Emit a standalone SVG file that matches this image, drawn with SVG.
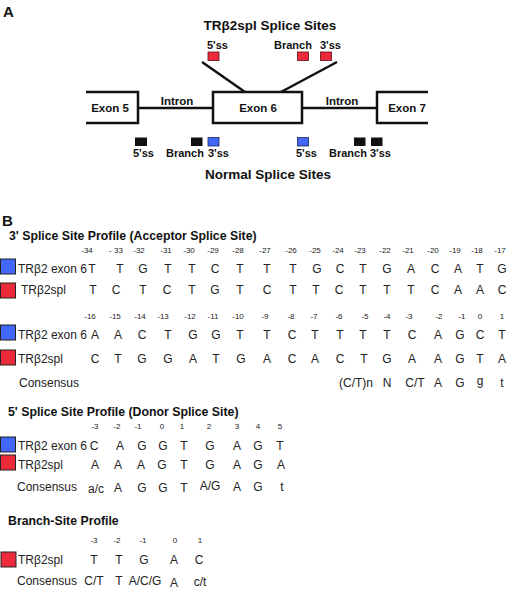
<svg xmlns="http://www.w3.org/2000/svg" width="520" height="591" viewBox="0 0 520 591">
<style>
text{font-family:"Liberation Sans",Arial,sans-serif;fill:#111}
.b{font-weight:bold}
.pl{font-size:15px;font-weight:bold}
.ttl{font-size:13.5px;font-weight:bold;text-anchor:middle}
.ex{font-size:11.5px;font-weight:bold;text-anchor:middle}
.lb{font-size:11px;font-weight:bold}
.hd{font-size:12.3px;font-weight:bold}
.nm{font-size:8px;text-anchor:middle;fill:#222}
.sq{font-size:12px;text-anchor:middle;fill:#222}
.rl{font-size:12px;fill:#222}
.box{fill:none;stroke:#111;stroke-width:2.5}
.blk{fill:#111}
.blu{fill:#4266f5;stroke:#1a2a60;stroke-width:0.8}
.red{fill:#ee2a3a;stroke:#5a1015;stroke-width:0.8}
.kb{fill:#4266f5;stroke:#222;stroke-width:1}
.kr{fill:#ee2a3a;stroke:#222;stroke-width:1}
</style>

<!-- Panel A -->
<text class="pl" x="3" y="17">A</text>
<text class="ttl" x="270" y="30">TRβ2spl Splice Sites</text>

<g id="exon5">
<path class="box" d="M86,92 H138 V123 H86"/>
<text class="ex" x="110" y="112">Exon 5</text>
</g>
<g id="exon6">
<rect class="box" x="213" y="92" width="89" height="31"/>
<text class="ex" x="258" y="112">Exon 6</text>
</g>
<g id="exon7">
<path class="box" d="M428,92 H377 V123 H428"/>
<text class="ex" x="407" y="112">Exon 7</text>
</g>

<g id="connectors">
<path class="box" d="M138,108 H213"/>
<path class="box" d="M302,108 H377"/>
<path class="box" d="M202,62 L245,92"/>
<path class="box" d="M337,62 L281,92"/>
</g>
<text class="ex" x="177" y="105">Intron</text>
<text class="ex" x="342" y="105">Intron</text>

<g id="spl-sites">
<text class="lb" x="207" y="49">5'ss</text>
<rect class="red" x="208" y="52" width="11" height="8.5"/>
<text class="lb" x="274" y="49">Branch</text>
<rect class="red" x="297.5" y="52" width="11" height="8.5"/>
<text class="lb" x="320" y="49">3'ss</text>
<rect class="red" x="320.5" y="52" width="11" height="8.5"/>
</g>

<g id="normal-sites">
<rect class="blk" x="135" y="137.5" width="12" height="8.5"/>
<rect class="blk" x="191" y="137.5" width="11.5" height="8.5"/>
<rect class="blu" x="208" y="137.5" width="11" height="8.5"/>
<rect class="blu" x="297.5" y="137.5" width="11" height="8.5"/>
<rect class="blk" x="354" y="137.5" width="11.5" height="8.5"/>
<rect class="blk" x="371" y="137.5" width="11.5" height="8.5"/>
<text class="lb" x="133" y="157">5'ss</text>
<text class="lb" x="166" y="157">Branch</text>
<text class="lb" x="208" y="157">3'ss</text>
<text class="lb" x="296" y="157">5'ss</text>
<text class="lb" x="329" y="157">Branch</text>
<text class="lb" x="370" y="157">3'ss</text>
</g>
<text class="ttl" x="268" y="179">Normal Splice Sites</text>

<!-- Panel B -->
<text class="pl" x="2" y="226">B</text>
<text class="hd" x="9" y="240">3' Splice Site Profile (Acceptor Splice Site)</text>

<g id="acc-num1">
<text class="nm" x="87" y="253">-34</text><text class="nm" x="116" y="253">- 33</text><text class="nm" x="139" y="253">-32</text><text class="nm" x="166" y="253">-31</text><text class="nm" x="189" y="253">-30</text><text class="nm" x="213" y="253">-29</text><text class="nm" x="238" y="253">-28</text><text class="nm" x="265" y="253">-27</text><text class="nm" x="291" y="253">-26</text><text class="nm" x="315" y="253">-25</text><text class="nm" x="338" y="253">-24</text><text class="nm" x="360" y="253">-23</text><text class="nm" x="385" y="253">-22</text><text class="nm" x="408" y="253">-21</text><text class="nm" x="433" y="253">-20</text><text class="nm" x="455" y="253">-19</text><text class="nm" x="477" y="253">-18</text><text class="nm" x="500" y="253">-17</text>
</g>
<g id="acc-row1">
<rect class="kb" x="0.5" y="259" width="15" height="15"/>
<text class="rl" x="18" y="273">TRβ2 exon 6</text>
<text class="sq" x="92" y="273">T</text><text class="sq" x="120" y="273">T</text><text class="sq" x="143" y="273">G</text><text class="sq" x="168" y="273">T</text><text class="sq" x="192" y="273">T</text><text class="sq" x="215" y="273">C</text><text class="sq" x="240" y="273">T</text><text class="sq" x="267" y="273">T</text><text class="sq" x="293" y="273">T</text><text class="sq" x="317" y="273">G</text><text class="sq" x="340" y="273">C</text><text class="sq" x="363" y="273">T</text><text class="sq" x="387" y="273">G</text><text class="sq" x="411" y="273">A</text><text class="sq" x="435" y="273">C</text><text class="sq" x="458" y="273">A</text><text class="sq" x="480" y="273">T</text><text class="sq" x="502" y="273">G</text>
</g>
<g id="acc-row2">
<rect class="kr" x="0.5" y="283" width="15" height="15"/>
<text class="rl" x="21" y="294">TRβ2spl</text>
<text class="sq" x="93" y="294">T</text><text class="sq" x="116" y="294">C</text><text class="sq" x="143" y="294">T</text><text class="sq" x="167" y="294">C</text><text class="sq" x="192" y="294">T</text><text class="sq" x="215" y="294">G</text><text class="sq" x="240" y="294">T</text><text class="sq" x="267" y="294">C</text><text class="sq" x="293" y="294">T</text><text class="sq" x="316" y="294">T</text><text class="sq" x="339" y="294">C</text><text class="sq" x="363" y="294">T</text><text class="sq" x="387" y="294">T</text><text class="sq" x="411" y="294">T</text><text class="sq" x="435" y="294">C</text><text class="sq" x="458" y="294">A</text><text class="sq" x="480" y="294">A</text><text class="sq" x="502" y="294">C</text>
</g>

<g id="acc-num2">
<text class="nm" x="90" y="319">-16</text><text class="nm" x="115" y="319">-15</text><text class="nm" x="140" y="319">-14</text><text class="nm" x="163" y="319">-13</text><text class="nm" x="190" y="319">-12</text><text class="nm" x="213" y="319">-11</text><text class="nm" x="238" y="319">-10</text><text class="nm" x="265" y="319">-9</text><text class="nm" x="291" y="319">-8</text><text class="nm" x="314" y="319">-7</text><text class="nm" x="339" y="319">-6</text><text class="nm" x="365" y="319">-5</text><text class="nm" x="387" y="319">-4</text><text class="nm" x="409" y="319">-3</text><text class="nm" x="439" y="319">-2</text><text class="nm" x="462" y="319">-1</text><text class="nm" x="480" y="319">0</text><text class="nm" x="502" y="319">1</text>
</g>
<g id="acc-row3">
<rect class="kb" x="0.5" y="325" width="15" height="15"/>
<text class="rl" x="18" y="339">TRβ2 exon 6</text>
<text class="sq" x="95" y="339">A</text><text class="sq" x="118" y="339">A</text><text class="sq" x="142" y="339">C</text><text class="sq" x="168" y="339">T</text><text class="sq" x="193" y="339">G</text><text class="sq" x="216" y="339">G</text><text class="sq" x="240" y="339">T</text><text class="sq" x="267" y="339">T</text><text class="sq" x="292" y="339">C</text><text class="sq" x="315" y="339">T</text><text class="sq" x="340" y="339">T</text><text class="sq" x="363" y="339">T</text><text class="sq" x="387" y="339">T</text><text class="sq" x="412" y="339">C</text><text class="sq" x="438" y="339">A</text><text class="sq" x="460" y="339">G</text><text class="sq" x="480" y="339">C</text><text class="sq" x="502" y="339">T</text>
</g>
<g id="acc-row4">
<rect class="kr" x="0.5" y="350" width="15" height="15"/>
<text class="rl" x="18" y="363">TRβ2spl</text>
<text class="sq" x="95" y="363">C</text><text class="sq" x="118" y="363">T</text><text class="sq" x="142" y="363">G</text><text class="sq" x="168" y="363">G</text><text class="sq" x="193" y="363">A</text><text class="sq" x="216" y="363">T</text><text class="sq" x="241" y="363">G</text><text class="sq" x="267" y="363">A</text><text class="sq" x="292" y="363">C</text><text class="sq" x="315" y="363">A</text><text class="sq" x="340" y="363">C</text><text class="sq" x="364" y="363">T</text><text class="sq" x="387" y="363">G</text><text class="sq" x="412" y="363">A</text><text class="sq" x="438" y="363">A</text><text class="sq" x="460" y="363">G</text><text class="sq" x="480" y="363">T</text><text class="sq" x="502" y="363">A</text>
</g>
<g id="acc-cons">
<text class="rl" x="19" y="387">Consensus</text>
<text class="sq" x="356" y="387">(C/T)n</text><text class="sq" x="387" y="387">N</text><text class="sq" x="415" y="387">C/T</text><text class="sq" x="438" y="387">A</text><text class="sq" x="460" y="387">G</text><text class="sq" x="480" y="385">g</text><text class="sq" x="502" y="387">t</text>
</g>

<text class="hd" x="8" y="416">5' Splice Site Profile (Donor Splice Site)</text>
<g id="don-num">
<text class="nm" x="95" y="429">-3</text><text class="nm" x="117" y="429">-2</text><text class="nm" x="138" y="429">-1</text><text class="nm" x="162" y="429">0</text><text class="nm" x="182" y="429">1</text><text class="nm" x="209" y="429">2</text><text class="nm" x="237" y="429">3</text><text class="nm" x="258" y="429">4</text><text class="nm" x="280" y="429">5</text>
</g>
<g id="don-row1">
<rect class="kb" x="0.5" y="437" width="15" height="15"/>
<text class="rl" x="18" y="450">TRβ2 exon 6</text>
<text class="sq" x="94" y="450">C</text><text class="sq" x="120" y="450">A</text><text class="sq" x="142" y="450">G</text><text class="sq" x="163" y="450">G</text><text class="sq" x="184" y="450">T</text><text class="sq" x="210" y="450">G</text><text class="sq" x="237" y="450">A</text><text class="sq" x="258" y="450">G</text><text class="sq" x="280" y="450">T</text>
</g>
<g id="don-row2">
<rect class="kr" x="0.5" y="455" width="15" height="15"/>
<text class="rl" x="18" y="469">TRβ2spl</text>
<text class="sq" x="95" y="469">A</text><text class="sq" x="118" y="469">A</text><text class="sq" x="141" y="469">A</text><text class="sq" x="162" y="469">G</text><text class="sq" x="184" y="469">T</text><text class="sq" x="210" y="469">G</text><text class="sq" x="237" y="469">A</text><text class="sq" x="258" y="469">G</text><text class="sq" x="281" y="469">A</text>
</g>
<g id="don-cons">
<text class="rl" x="17" y="491">Consensus</text>
<text class="sq" x="96" y="493">a/c</text><text class="sq" x="118" y="492">A</text><text class="sq" x="142" y="492">G</text><text class="sq" x="163" y="492">G</text><text class="sq" x="184" y="492">T</text><text class="sq" x="210" y="490">A/G</text><text class="sq" x="237" y="491">A</text><text class="sq" x="258" y="491">G</text><text class="sq" x="282" y="491">t</text>
</g>

<text class="hd" x="8" y="525">Branch-Site Profile</text>
<g id="br-num">
<text class="nm" x="94" y="543">-3</text><text class="nm" x="117" y="543">-2</text><text class="nm" x="143" y="543">-1</text><text class="nm" x="175" y="543">0</text><text class="nm" x="200" y="543">1</text>
</g>
<g id="br-row">
<rect class="kr" x="1" y="552" width="15" height="15"/>
<text class="rl" x="18" y="564">TRβ2spl</text>
<text class="sq" x="94" y="564">T</text><text class="sq" x="119" y="564">T</text><text class="sq" x="144" y="564">G</text><text class="sq" x="174" y="564">A</text><text class="sq" x="199" y="564">C</text>
</g>
<g id="br-cons">
<text class="rl" x="17" y="585">Consensus</text>
<text class="sq" x="94" y="585">C/T</text><text class="sq" x="119" y="585">T</text><text class="sq" x="145" y="585">A/C/G</text><text class="sq" x="174" y="587">A</text><text class="sq" x="200" y="586">c/t</text>
</g>
</svg>
